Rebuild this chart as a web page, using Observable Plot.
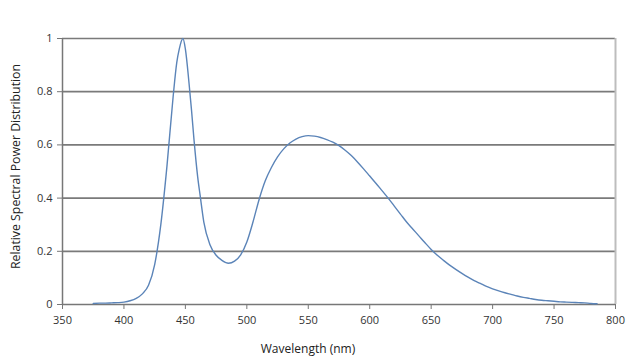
<!DOCTYPE html>
<html>
<head>
<meta charset="utf-8">
<script src="https://cdn.jsdelivr.net/npm/d3@7"></script>
<script src="https://cdn.jsdelivr.net/npm/@observablehq/plot@0.6"></script>
<style>
  html, body { margin: 0; padding: 0; background: #fff; }
  #chart { width: 640px; height: 360px; }
</style>
</head>
<body>
<div id="chart"></div>
<script>
const wavelengths = [375,380,385,390,395,400,405,410,415,420,425,430,435,440,443,445,448,450,453,455,457,460,462,465,470,475,480,485,490,495,500,505,510,515,520,525,530,535,540,545,550,555,560,565,570,575,580,585,590,595,600,605,610,615,620,625,630,635,640,645,650,655,660,665,670,675,680,685,690,695,700,705,710,715,720,725,730,735,740,745,750,755,760,765,770,775,780,785];
const power = [0.004,0.005,0.005,0.006,0.007,0.009,0.014,0.023,0.04,0.072,0.15,0.30,0.52,0.78,0.91,0.96,1.0,0.96,0.83,0.73,0.62,0.48,0.41,0.31,0.225,0.185,0.165,0.155,0.163,0.187,0.235,0.31,0.395,0.465,0.515,0.555,0.585,0.607,0.622,0.631,0.635,0.633,0.628,0.62,0.61,0.597,0.58,0.56,0.536,0.51,0.483,0.456,0.428,0.40,0.37,0.34,0.31,0.284,0.258,0.232,0.207,0.185,0.166,0.148,0.132,0.117,0.103,0.09,0.079,0.068,0.059,0.051,0.044,0.038,0.032,0.027,0.023,0.019,0.016,0.014,0.012,0.01,0.009,0.008,0.007,0.006,0.004,0.003];
const xTicks = [350,400,450,500,550,600,650,700,750,800];
const yTicks = [0,0.2,0.4,0.6,0.8,1];
const xLabel = "Wavelength (nm)";
const yLabel = "Relative Spectral Power Distribution";

const data = wavelengths.map((w, i) => ({w, p: power[i]}));

const chart = Plot.plot({
  width: 640,
  height: 360,
  marginLeft: 62,
  marginRight: 25,
  marginTop: 38,
  marginBottom: 56,
  style: {fontFamily: "'Open Sans', sans-serif", fontSize: "11px", color: "#333", background: "#fff"},
  x: {domain: [350, 800], label: null},
  y: {domain: [0, 1], label: null},
  marks: [
    Plot.ruleY(yTicks.filter(d => d > 0), {stroke: "#7a7a7a", strokeWidth: 1.7}),
    Plot.ruleX([800], {stroke: "#bdbdbd", strokeWidth: 2}),
    Plot.axisX({ticks: xTicks, tickSize: 5, tickPadding: 7, stroke: "#777", label: null, fontSize: 11}),
    Plot.axisY({ticks: yTicks, tickSize: 5, tickPadding: 5, stroke: "#777", label: null, tickFormat: d => String(d), fontSize: 11}),
    Plot.ruleX([350], {stroke: "#777", strokeWidth: 1.5}),
    Plot.ruleY([0], {stroke: "#777", strokeWidth: 1.5}),
    Plot.line(data, {x: "w", y: "p", stroke: "#5b84b8", strokeWidth: 1.4, curve: "monotone-x"}),
    Plot.text([xLabel], {frameAnchor: "bottom", dx: -31, dy: 48, fontSize: 12, fill: "#222", letterSpacing: 0.3}),
    Plot.text([yLabel], {frameAnchor: "left", textAnchor: "middle", dx: -46, dy: -5, rotate: -90, fontSize: 12.3, fill: "#222"})
  ]
});
document.getElementById("chart").appendChild(chart);
</script>
</body>
</html>
